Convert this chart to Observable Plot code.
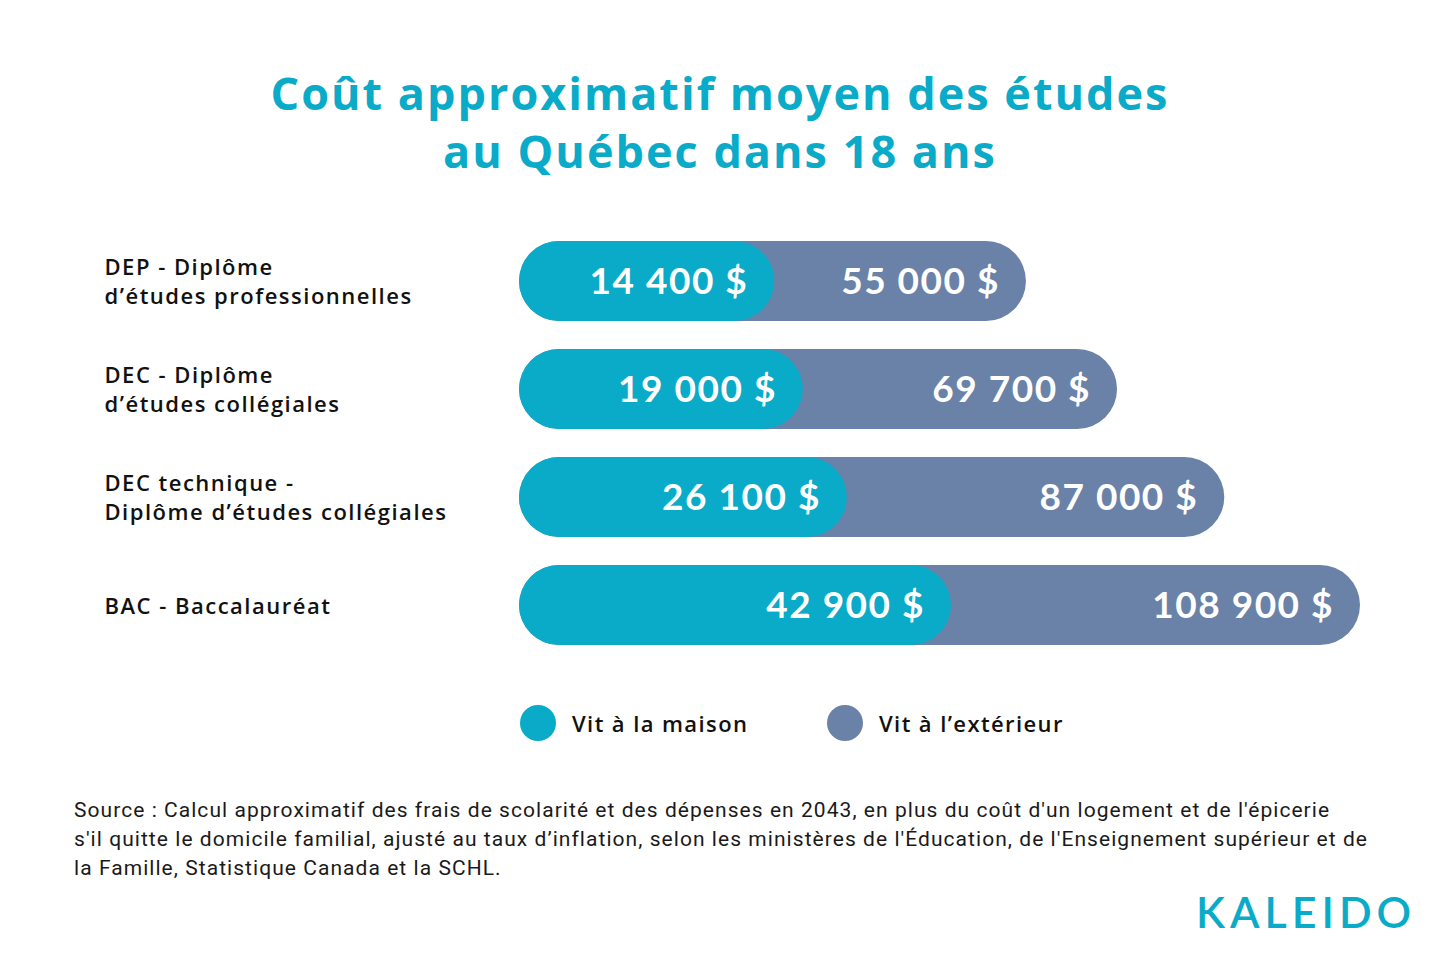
<!DOCTYPE html>
<html lang="fr">
<head>
<meta charset="utf-8">
<script src="https://cdn.jsdelivr.net/npm/d3@7"></script>
<script src="https://cdn.jsdelivr.net/npm/@observablehq/plot@0.6"></script>
<style>
  html, body { margin: 0; padding: 0; background: #fff; }
  #page { position: relative; width: 1440px; height: 960px; overflow: hidden; background: #fff; }
  #title {
    position: absolute; left: 0; top: 64px; width: 1440px; text-align: center;
    font-family: "Open Sans", sans-serif; font-weight: 700; font-size: 45px; line-height: 58px;
    letter-spacing: 2px; color: #0aabc8;
  }
  #chart { position: absolute; left: 0; top: 227px; }
  #legend {
    position: absolute; top: 705px; left: 0; width: 1440px; height: 36px;
    font-family: "Open Sans", sans-serif; font-size: 22px; font-weight: 600; letter-spacing: 1.4px; color: #111;
  }
  .item { position: absolute; top: 0; display: flex; align-items: center; height: 36px; }
  .dot { width: 36px; height: 36px; border-radius: 50%; margin-right: 16px; }
  #source {
    position: absolute; left: 74px; top: 796px; width: 1340px; white-space: nowrap;
    font-family: Roboto, sans-serif; font-size: 21px; line-height: 29px; letter-spacing: 1.05px; color: #1a1a1a;
  }
  #logo {
    position: absolute; left: 1196px; top: 886px;
    font-family: Lato, sans-serif; font-size: 43px; font-weight: 600; letter-spacing: 5px; color: #0aabc8;
  }
</style>
</head>
<body>
<div id="page">
  <div id="title">Coût approximatif moyen des études<br>au Québec dans 18 ans</div>
  <div id="chart"></div>
  <div id="legend"></div>
  <div id="source">Source : Calcul approximatif des frais de scolarité et des dépenses en 2043, en plus du coût d'un logement et de l'épicerie<br>s'il quitte le domicile familial, ajusté au taux d’inflation, selon les ministères de l'Éducation, de l'Enseignement supérieur et de<br>la Famille, Statistique Canada et la SCHL.</div>
  <div id="logo">KALEIDO</div>
</div>
<script>
// Program of study (two-line labels)
const categories = [
  "DEP - Diplôme\nd’études professionnelles",
  "DEC - Diplôme\nd’études collégiales",
  "DEC technique -\nDiplôme d’études collégiales",
  "BAC - Baccalauréat"
];
// Estimated total cost, in dollars
const atHome = [14400, 19000, 26100, 42900];
const awayFromHome = [55000, 69700, 87000, 108900];
const seriesNames = ["Vit à la maison", "Vit à l’extérieur"];
const seriesColors = ["#0aabc8", "#6a82a8"];

// Bars start a bit left of zero so every amount fits inside its bar
const barStart = -26800;
const xMax = 108900;

const rows = categories.map((c, i) => ({category: c, home: atHome[i], away: awayFromHome[i]}));

const group = d3.format(",");
const money = v => group(v).replace(/,/g, " ") + " $";

const valueFont = "Lato, sans-serif";
const labelFont = "'Open Sans', sans-serif";

const chart = Plot.plot({
  width: 1440,
  height: 432,
  marginTop: 0,
  marginBottom: 0,
  marginLeft: 519,
  marginRight: 80,
  x: {domain: [barStart, xMax], axis: null},
  y: {domain: categories, padding: 0, axis: null},
  style: {fontFamily: labelFont, background: "transparent"},
  marks: [
    Plot.barX(rows, {y: "category", x1: barStart, x2: "away", fill: seriesColors[1], rx: 40, insetTop: 14, insetBottom: 14}),
    Plot.barX(rows, {y: "category", x1: barStart, x2: "home", fill: seriesColors[0], rx: 40, insetTop: 14, insetBottom: 14}),
    Plot.text(rows, {y: "category", x: "away", text: d => money(d.away), textAnchor: "end", dx: -28, dy: 1,
      fill: "white", fontSize: 37, fontWeight: 700, fontFamily: valueFont}),
    Plot.text(rows, {y: "category", x: "home", text: d => money(d.home), textAnchor: "end", dx: -28, dy: 1,
      fill: "white", fontSize: 37, fontWeight: 700, fontFamily: valueFont}),
    Plot.text(rows, {y: "category", frameAnchor: "left", dx: -415, dy: -1, text: "category",
      textAnchor: "start", lineAnchor: "middle", lineHeight: 1.3, fontSize: 22, fontWeight: 600,
      fill: "#111", fontFamily: labelFont})
  ]
});
document.getElementById("chart").append(chart);

// Letter spacing. The amounts are end-anchored, so they are re-anchored at
// the start and shifted back so their right edge stays where it was.
chart.querySelectorAll("text").forEach(t => {
  const isAmount = getComputedStyle(t).fill === "rgb(255, 255, 255)";
  if (!isAmount) { t.style.letterSpacing = "1.5px"; return; }
  const before = t.getBBox();
  const right = before.x + before.width;
  t.style.textAnchor = "start";
  t.setAttribute("text-anchor", "start");
  t.style.letterSpacing = "1.5px";
  const after = t.getBBox();
  const shift = right - (after.x + after.width) + 1.5;
  t.setAttribute("dx", (parseFloat(t.getAttribute("dx")) || 0) + shift);
});

// Legend
const legend = document.getElementById("legend");
const legendLeft = [520, 827];
seriesNames.forEach((name, i) => {
  const item = document.createElement("div");
  item.className = "item";
  item.style.left = legendLeft[i] + "px";
  const dot = document.createElement("span");
  dot.className = "dot";
  dot.style.background = seriesColors[i];
  const label = document.createElement("span");
  label.textContent = name;
  item.append(dot, label);
  legend.append(item);
});
</script>
</body>
</html>
